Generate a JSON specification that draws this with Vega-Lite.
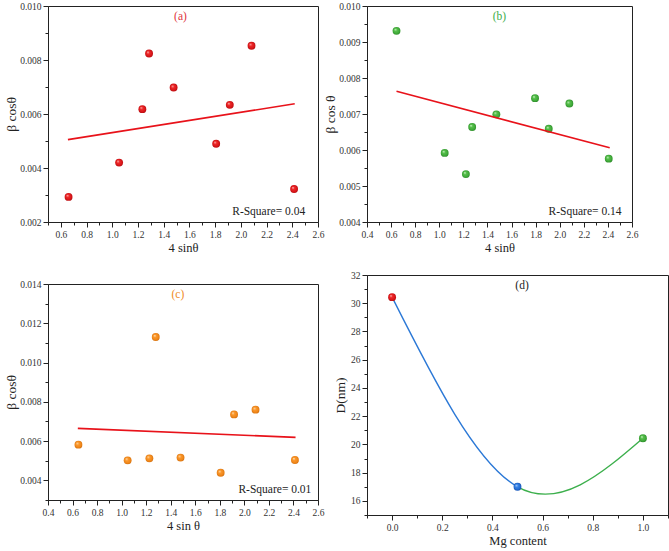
{
  "$schema": "https://vega.github.io/schema/vega-lite/v6.json",
  "padding": {"left": 4, "top": 0, "right": 2, "bottom": 0},
  "config": {
    "font": "Liberation Serif",
    "view": {"stroke": "#222", "strokeWidth": 1},
    "axis": {
      "grid": false,
      "labelFlush": false,
      "labelOverlap": false,
      "labelFont": "Liberation Serif",
      "labelFontSize": 9.5,
      "labelColor": "#333",
      "labelPadding": 2,
      "tickSize": 5,
      "domainColor": "#222",
      "tickColor": "#222",
      "titleFont": "Liberation Serif",
      "titleFontSize": 12.5,
      "titleFontWeight": "normal",
      "titleColor": "#222"
    },
    "axisX": {"titlePadding": 3},
    "axisY": {"titlePadding": 1, "titleFontSize": 13.5},
    "text": {"font": "Liberation Serif"}
  },
  "datasets": {
    "a_points": [
      {"x": 0.66, "y": 0.00293}, {"x": 1.053, "y": 0.0042}, {"x": 1.234, "y": 0.00618},
      {"x": 1.286, "y": 0.00824}, {"x": 1.477, "y": 0.00698}, {"x": 1.808, "y": 0.0049},
      {"x": 1.914, "y": 0.00634}, {"x": 2.083, "y": 0.00853}, {"x": 2.414, "y": 0.00322}
    ],
    "a_fit": [{"x": 0.655, "y": 0.00505}, {"x": 2.419, "y": 0.00638}],
    "b_points": [
      {"x": 0.645, "y": 0.00931}, {"x": 1.045, "y": 0.00592}, {"x": 1.221, "y": 0.00533},
      {"x": 1.273, "y": 0.00664}, {"x": 1.474, "y": 0.00699}, {"x": 1.795, "y": 0.00744},
      {"x": 1.909, "y": 0.00659}, {"x": 2.08, "y": 0.00729}, {"x": 2.407, "y": 0.00576}
    ],
    "b_fit": [{"x": 0.645, "y": 0.00763}, {"x": 2.415, "y": 0.00606}],
    "c_points": [
      {"x": 0.648, "y": 0.00582}, {"x": 1.049, "y": 0.00502}, {"x": 1.226, "y": 0.00512},
      {"x": 1.278, "y": 0.0113}, {"x": 1.48, "y": 0.00516}, {"x": 1.807, "y": 0.00439},
      {"x": 1.916, "y": 0.00736}, {"x": 2.091, "y": 0.0076}, {"x": 2.412, "y": 0.00504}
    ],
    "c_fit": [{"x": 0.643, "y": 0.00665}, {"x": 2.417, "y": 0.00619}],
    "d_points": [
      {"mg": 0.0, "D": 30.43}, {"mg": 0.5, "D": 17.0}, {"mg": 1.0, "D": 20.44}
    ]
  },
  "hconcat": [
    {
      "spacing": 23,
      "vconcat": [
        {
          "width": 270,
          "height": 216,
          "resolve": {"axis": {"x": "independent", "y": "independent"}},
          "layer": [
            {
              "data": {"name": "a_points"},
              "mark": {
                "type": "point", "filled": true, "size": 62, "opacity": 1,
                "fill": {"gradient": "radial", "x1": 0.35, "y1": 0.32, "r1": 0, "x2": 0.5, "y2": 0.5, "r2": 0.55,
                  "stops": [{"offset": 0, "color": "#ffd6d6"}, {"offset": 0.3, "color": "#f02a2a"}, {"offset": 0.8, "color": "#d31216"}, {"offset": 1, "color": "#a30a0d"}]}
              },
              "encoding": {
                "x": {
                  "field": "x", "type": "quantitative",
                  "scale": {"domain": [0.5, 2.6], "nice": false, "zero": false},
                  "axis": {"title": "4 sinθ", "format": ".1f", "orient": "bottom", "labelOverlap": false,
                    "values": [0.6, 0.8, 1.0, 1.2, 1.4, 1.6, 1.8, 2.0, 2.2, 2.4, 2.6]}
                },
                "y": {
                  "field": "y", "type": "quantitative",
                  "scale": {"domain": [0.002, 0.01], "nice": false, "zero": false},
                  "axis": {"title": "β cosθ", "format": ".3f", "orient": "left", "labelOverlap": false,
                    "values": [0.002, 0.004, 0.006, 0.008, 0.01]}
                }
              }
            },
            {
              "data": {"name": "a_fit"},
              "mark": {"type": "line", "color": "#e8121a", "strokeWidth": 1.6},
              "encoding": {
                "x": {"field": "x", "type": "quantitative",
                  "axis": {"orient": "bottom", "title": null, "labels": false, "domain": false, "tickSize": 3,
                    "values": [0.5, 0.7, 0.9, 1.1, 1.3, 1.5, 1.7, 1.9, 2.1, 2.3, 2.5]}},
                "y": {"field": "y", "type": "quantitative",
                  "axis": {"orient": "left", "title": null, "labels": false, "domain": false, "tickSize": 3,
                    "values": [0.003, 0.005, 0.007, 0.009]}}
              }
            },
            {
              "data": {"values": [{"label": "(a)"}]},
              "mark": {"type": "text", "fontSize": 11.5, "color": "#e0343c", "align": "center", "baseline": "middle"},
              "encoding": {"x": {"datum": 1.53, "type": "quantitative", "axis": null}, "y": {"datum": 0.0096, "type": "quantitative", "axis": null}, "text": {"field": "label"}}
            },
            {
              "data": {"values": [{"label": "R-Square= 0.04"}]},
              "mark": {"type": "text", "fontSize": 11.5, "color": "#222", "align": "right", "baseline": "middle"},
              "encoding": {"x": {"datum": 2.5, "type": "quantitative", "axis": null}, "y": {"datum": 0.00237, "type": "quantitative", "axis": null}, "text": {"field": "label"}}
            }
          ]
        },
        {
          "width": 270,
          "height": 216,
          "resolve": {"axis": {"x": "independent", "y": "independent"}},
          "layer": [
            {
              "data": {"name": "c_points"},
              "mark": {
                "type": "point", "filled": true, "size": 62, "opacity": 1,
                "fill": {"gradient": "radial", "x1": 0.35, "y1": 0.32, "r1": 0, "x2": 0.5, "y2": 0.5, "r2": 0.55,
                  "stops": [{"offset": 0, "color": "#fff0d8"}, {"offset": 0.3, "color": "#fb9a2e"}, {"offset": 0.8, "color": "#ee8316"}, {"offset": 1, "color": "#c1650a"}]}
              },
              "encoding": {
                "x": {
                  "field": "x", "type": "quantitative",
                  "scale": {"domain": [0.4, 2.6], "nice": false, "zero": false},
                  "axis": {"title": "4 sin θ", "format": ".1f", "orient": "bottom", "labelOverlap": false,
                    "values": [0.4, 0.6, 0.8, 1.0, 1.2, 1.4, 1.6, 1.8, 2.0, 2.2, 2.4, 2.6]}
                },
                "y": {
                  "field": "y", "type": "quantitative",
                  "scale": {"domain": [0.003, 0.014], "nice": false, "zero": false},
                  "axis": {"title": "β cosθ", "format": ".3f", "orient": "left", "labelOverlap": false,
                    "values": [0.004, 0.006, 0.008, 0.01, 0.012, 0.014]}
                }
              }
            },
            {
              "data": {"name": "c_fit"},
              "mark": {"type": "line", "color": "#e8121a", "strokeWidth": 1.6},
              "encoding": {
                "x": {"field": "x", "type": "quantitative",
                  "axis": {"orient": "bottom", "title": null, "labels": false, "domain": false, "tickSize": 3,
                    "values": [0.5, 0.7, 0.9, 1.1, 1.3, 1.5, 1.7, 1.9, 2.1, 2.3, 2.5]}},
                "y": {"field": "y", "type": "quantitative",
                  "axis": {"orient": "left", "title": null, "labels": false, "domain": false, "tickSize": 3,
                    "values": [0.003, 0.005, 0.007, 0.009, 0.011, 0.013]}}
              }
            },
            {
              "data": {"values": [{"label": "(c)"}]},
              "mark": {"type": "text", "fontSize": 11.5, "color": "#f08a24", "align": "center", "baseline": "middle"},
              "encoding": {"x": {"datum": 1.458, "type": "quantitative", "axis": null}, "y": {"datum": 0.01343, "type": "quantitative", "axis": null}, "text": {"field": "label"}}
            },
            {
              "data": {"values": [{"label": "R-Square= 0.01"}]},
              "mark": {"type": "text", "fontSize": 11.5, "color": "#222", "align": "right", "baseline": "middle"},
              "encoding": {"x": {"datum": 2.546, "type": "quantitative", "axis": null}, "y": {"datum": 0.003507, "type": "quantitative", "axis": null}, "text": {"field": "label"}}
            }
          ]
        }
      ]
    },
    {
      "spacing": 14,
      "vconcat": [
        {
          "width": 265,
          "height": 216,
          "resolve": {"axis": {"x": "independent", "y": "independent"}},
          "layer": [
            {
              "data": {"name": "b_points"},
              "mark": {
                "type": "point", "filled": true, "size": 62, "opacity": 1,
                "fill": {"gradient": "radial", "x1": 0.35, "y1": 0.32, "r1": 0, "x2": 0.5, "y2": 0.5, "r2": 0.55,
                  "stops": [{"offset": 0, "color": "#e4ffe0"}, {"offset": 0.3, "color": "#58c04c"}, {"offset": 0.8, "color": "#3ca636"}, {"offset": 1, "color": "#237a22"}]}
              },
              "encoding": {
                "x": {
                  "field": "x", "type": "quantitative",
                  "scale": {"domain": [0.4, 2.6], "nice": false, "zero": false},
                  "axis": {"title": "4 sinθ", "format": ".1f", "orient": "bottom", "labelOverlap": false,
                    "values": [0.4, 0.6, 0.8, 1.0, 1.2, 1.4, 1.6, 1.8, 2.0, 2.2, 2.4, 2.6]}
                },
                "y": {
                  "field": "y", "type": "quantitative",
                  "scale": {"domain": [0.004, 0.01], "nice": false, "zero": false},
                  "axis": {"title": "β cos θ", "format": ".3f", "orient": "left", "labelOverlap": false,
                    "values": [0.004, 0.005, 0.006, 0.007, 0.008, 0.009, 0.01]}
                }
              }
            },
            {
              "data": {"name": "b_fit"},
              "mark": {"type": "line", "color": "#e8121a", "strokeWidth": 1.6},
              "encoding": {
                "x": {"field": "x", "type": "quantitative",
                  "axis": {"orient": "bottom", "title": null, "labels": false, "domain": false, "tickSize": 3,
                    "values": [0.5, 0.7, 0.9, 1.1, 1.3, 1.5, 1.7, 1.9, 2.1, 2.3, 2.5]}},
                "y": {"field": "y", "type": "quantitative",
                  "axis": {"orient": "left", "title": null, "labels": false, "domain": false, "tickSize": 3,
                    "values": [0.0045, 0.0055, 0.0065, 0.0075, 0.0085, 0.0095]}}
              }
            },
            {
              "data": {"values": [{"label": "(b)"}]},
              "mark": {"type": "text", "fontSize": 11.5, "color": "#3cae4a", "align": "center", "baseline": "middle"},
              "encoding": {"x": {"datum": 1.499, "type": "quantitative", "axis": null}, "y": {"datum": 0.00969, "type": "quantitative", "axis": null}, "text": {"field": "label"}}
            },
            {
              "data": {"values": [{"label": "R-Square= 0.14"}]},
              "mark": {"type": "text", "fontSize": 11.5, "color": "#222", "align": "right", "baseline": "middle"},
              "encoding": {"x": {"datum": 2.513, "type": "quantitative", "axis": null}, "y": {"datum": 0.00428, "type": "quantitative", "axis": null}, "text": {"field": "label"}}
            }
          ]
        },
        {
          "width": 301,
          "height": 240,
          "data": {"name": "d_points"},
          "resolve": {"axis": {"x": "independent", "y": "independent"}},
          "layer": [
            {
              "mark": {
                "type": "line", "interpolate": "natural", "strokeWidth": 1.4,
                "stroke": {"gradient": "linear", "x1": 0, "y1": 0, "x2": 1, "y2": 0,
                  "stops": [{"offset": 0, "color": "#2b78d6"}, {"offset": 0.5, "color": "#2b78d6"}, {"offset": 0.5, "color": "#3caf4c"}, {"offset": 1, "color": "#3caf4c"}]}
              },
              "encoding": {
                "x": {
                  "field": "mg", "type": "quantitative",
                  "scale": {"domain": [-0.1, 1.1], "nice": false, "zero": false},
                  "axis": {"title": "Mg content", "format": ".1f", "orient": "bottom", "labelOverlap": false,
                    "values": [0.0, 0.2, 0.4, 0.6, 0.8, 1.0]}
                },
                "y": {
                  "field": "D", "type": "quantitative",
                  "scale": {"domain": [15, 32], "nice": false, "zero": false},
                  "axis": {"title": "D(nm)", "format": "d", "orient": "left", "titlePadding": 3, "labelOverlap": false,
                    "values": [16, 18, 20, 22, 24, 26, 28, 30, 32]}
                }
              }
            },
            {
              "transform": [{"filter": "datum.mg == 0"}],
              "mark": {
                "type": "point", "filled": true, "size": 62, "opacity": 1,
                "fill": {"gradient": "radial", "x1": 0.35, "y1": 0.32, "r1": 0, "x2": 0.5, "y2": 0.5, "r2": 0.55,
                  "stops": [{"offset": 0, "color": "#ffd6d6"}, {"offset": 0.3, "color": "#f02a2a"}, {"offset": 0.8, "color": "#d31216"}, {"offset": 1, "color": "#a30a0d"}]}
              },
              "encoding": {
                "x": {"field": "mg", "type": "quantitative",
                  "axis": {"orient": "bottom", "title": null, "labels": false, "domain": false, "tickSize": 3,
                    "values": [-0.1, 0.1, 0.3, 0.5, 0.7, 0.9, 1.1]}},
                "y": {"field": "D", "type": "quantitative",
                  "axis": {"orient": "left", "title": null, "labels": false, "domain": false, "tickSize": 3,
                    "values": [15, 17, 19, 21, 23, 25, 27, 29, 31]}}
              }
            },
            {
              "transform": [{"filter": "datum.mg == 0.5"}],
              "mark": {
                "type": "point", "filled": true, "size": 62, "opacity": 1,
                "fill": {"gradient": "radial", "x1": 0.35, "y1": 0.32, "r1": 0, "x2": 0.5, "y2": 0.5, "r2": 0.55,
                  "stops": [{"offset": 0, "color": "#dcebff"}, {"offset": 0.3, "color": "#3a86e8"}, {"offset": 0.8, "color": "#1f66cc"}, {"offset": 1, "color": "#12449a"}]}
              },
              "encoding": {"x": {"field": "mg", "type": "quantitative", "axis": null}, "y": {"field": "D", "type": "quantitative", "axis": null}}
            },
            {
              "transform": [{"filter": "datum.mg == 1"}],
              "mark": {
                "type": "point", "filled": true, "size": 62, "opacity": 1,
                "fill": {"gradient": "radial", "x1": 0.35, "y1": 0.32, "r1": 0, "x2": 0.5, "y2": 0.5, "r2": 0.55,
                  "stops": [{"offset": 0, "color": "#e4ffe0"}, {"offset": 0.3, "color": "#58c04c"}, {"offset": 0.8, "color": "#3ca636"}, {"offset": 1, "color": "#237a22"}]}
              },
              "encoding": {"x": {"field": "mg", "type": "quantitative", "axis": null}, "y": {"field": "D", "type": "quantitative", "axis": null}}
            },
            {
              "data": {"values": [{"label": "(d)"}]},
              "mark": {"type": "text", "fontSize": 11.5, "color": "#222", "align": "center", "baseline": "middle"},
              "encoding": {"x": {"datum": 0.518, "type": "quantitative", "axis": null}, "y": {"datum": 31.19, "type": "quantitative", "axis": null}, "text": {"field": "label"}}
            }
          ]
        }
      ]
    }
  ],
  "spacing": -2
}
